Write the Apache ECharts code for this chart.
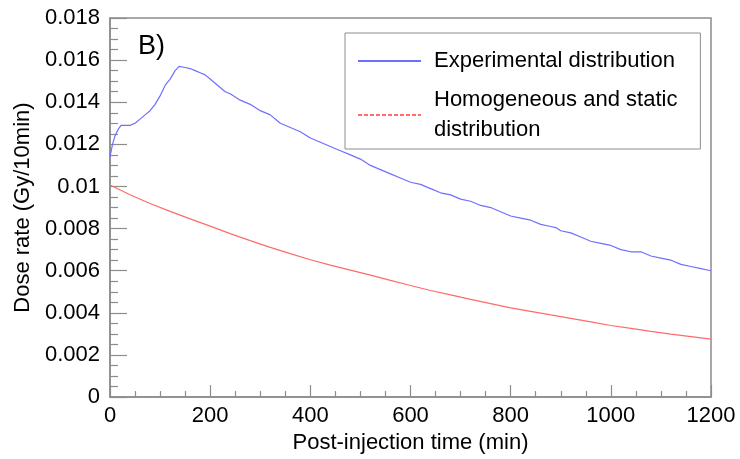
<!DOCTYPE html>
<html>
<head>
<meta charset="utf-8">
<script src="https://cdn.jsdelivr.net/npm/echarts@6/dist/echarts.min.js"></script>
<style>html,body{margin:0;padding:0;background:#fff}#c{width:740px;height:459px}</style>
</head>
<body>
<div id="c"></div>
<script>
const seriesNames = ["Experimental distribution", "Homogeneous and static\ndistribution"];
const expTime = [0,5,10,16,22,30,40,50,60,70,80,90,100,110,120,130,138,150,160,170,180,190,200,210,220,230,240,260,280,300,320,340,360,380,400,420,440,460,480,500,520,540,560,580,600,620,640,660,680,700,720,740,760,780,800,820,840,860,880,890,900,920,940,960,980,1000,1020,1040,1060,1080,1100,1120,1140,1160,1180,1200];
const expDose = [0.0114,0.0120,0.0124,0.0127,0.0129,0.0129,0.0129,0.0130,0.0132,0.0134,0.0136,0.0139,0.0143,0.0148,0.0151,0.0155,0.0157,0.01565,0.0156,0.0155,0.0154,0.0153,0.0151,0.0149,0.0147,0.0145,0.0144,0.0141,0.0139,0.0136,0.0134,0.0130,0.0128,0.0126,0.0123,0.0121,0.0119,0.0117,0.0115,0.0113,0.0110,0.0108,0.0106,0.0104,0.0102,0.0101,0.0099,0.0097,0.0096,0.0094,0.0093,0.0091,0.0090,0.0088,0.0086,0.0085,0.0084,0.0082,0.0081,0.00805,0.0079,0.0078,0.0076,0.0074,0.0073,0.0072,0.0070,0.0069,0.0069,0.0067,0.0066,0.0065,0.0063,0.0062,0.0061,0.0060];
const homTime = [0,40,80,120,160,200,240,280,320,360,400,440,480,520,560,600,640,680,720,760,800,840,880,920,960,1000,1040,1080,1120,1160,1200];
const homDose = [0.01007,0.00961,0.00919,0.00882,0.00846,0.00812,0.00776,0.00743,0.00711,0.00681,0.00652,0.00627,0.00603,0.00579,0.00554,0.00530,0.00506,0.00485,0.00464,0.00444,0.00424,0.00407,0.00390,0.00374,0.00357,0.00340,0.00326,0.00312,0.00299,0.00287,0.00275];
const xTitle = "Post-injection time (min)";
const yTitle = "Dose rate (Gy/10min)";
const panelLabel = "B)";

const FONT = "Liberation Sans";
const AX = "#8c8c8c";
const chart = echarts.init(document.getElementById('c'), null, {renderer: 'canvas'});
chart.setOption({
  animation: false,
  backgroundColor: '#ffffff',
  textStyle: {fontFamily: FONT},
  grid: {left: 110, right: 29, top: 18, bottom: 55, show: true, borderColor: AX, borderWidth: 1.5, backgroundColor: 'transparent'},
  graphic: [{type: 'text', left: 138, top: 33, style: {text: panelLabel, font: '27px "Liberation Sans"', fill: '#000'}}],
  legend: {
    orient: 'vertical', left: 345, top: 33,
    padding: [13, 23, 4, 12],
    itemGap: 9, itemWidth: 63, itemHeight: 14,
    borderColor: AX, borderWidth: 1, backgroundColor: '#fff',
    itemStyle: {opacity: 0},
    textStyle: {fontSize: 22, color: '#000', lineHeight: 30, fontFamily: FONT, padding: [0, 0, 0, 8]},
    data: [
      {name: seriesNames[0]},
      {name: seriesNames[1], lineStyle: {type: [4, 2]}}
    ]
  },
  xAxis: {
    type: 'value', min: 0, max: 1200, interval: 200,
    name: xTitle, nameLocation: 'middle', nameGap: 27,
    nameTextStyle: {fontSize: 22, color: '#000', fontFamily: FONT},
    axisLine: {show: true, onZero: false, lineStyle: {color: AX, width: 1.5}},
    axisTick: {show: true, inside: true, length: 12, lineStyle: {color: AX, width: 1.2}},
    minorTick: {show: true, splitNumber: 4, length: 6, lineStyle: {color: AX, width: 1.2}},
    axisLabel: {fontSize: 22, color: '#000', margin: 8, fontFamily: FONT, formatter: v => String(v)},
    splitLine: {show: false}
  },
  yAxis: {
    type: 'value', min: 0, max: 0.018, interval: 0.002,
    name: yTitle, nameLocation: 'middle', nameGap: 74, nameRotate: 90,
    nameTextStyle: {fontSize: 22, color: '#000', fontFamily: FONT},
    axisLine: {show: true, onZero: false, lineStyle: {color: AX, width: 1.5}},
    axisTick: {show: true, inside: true, length: 17, lineStyle: {color: AX, width: 1.2}},
    minorTick: {show: true, splitNumber: 4, length: 8, lineStyle: {color: AX, width: 1.2}},
    axisLabel: {fontSize: 22, color: '#000', margin: 10, fontFamily: FONT,
      formatter: v => String(parseFloat(v.toFixed(4)))},
    splitLine: {show: false}
  },
  series: [
    {name: seriesNames[0], type: 'line', symbol: 'none', smooth: false,
     lineStyle: {color: '#6f6fff', width: 1.2}, itemStyle: {color: '#6f6fff'},
     data: expTime.map((t, i) => [t, expDose[i]])},
    {name: seriesNames[1], type: 'line', symbol: 'none', smooth: false,
     lineStyle: {color: '#ff6a6a', width: 1.2}, itemStyle: {color: '#ff6a6a'},
     data: homTime.map((t, i) => [t, homDose[i]])}
  ]
});
</script>
</body>
</html>
